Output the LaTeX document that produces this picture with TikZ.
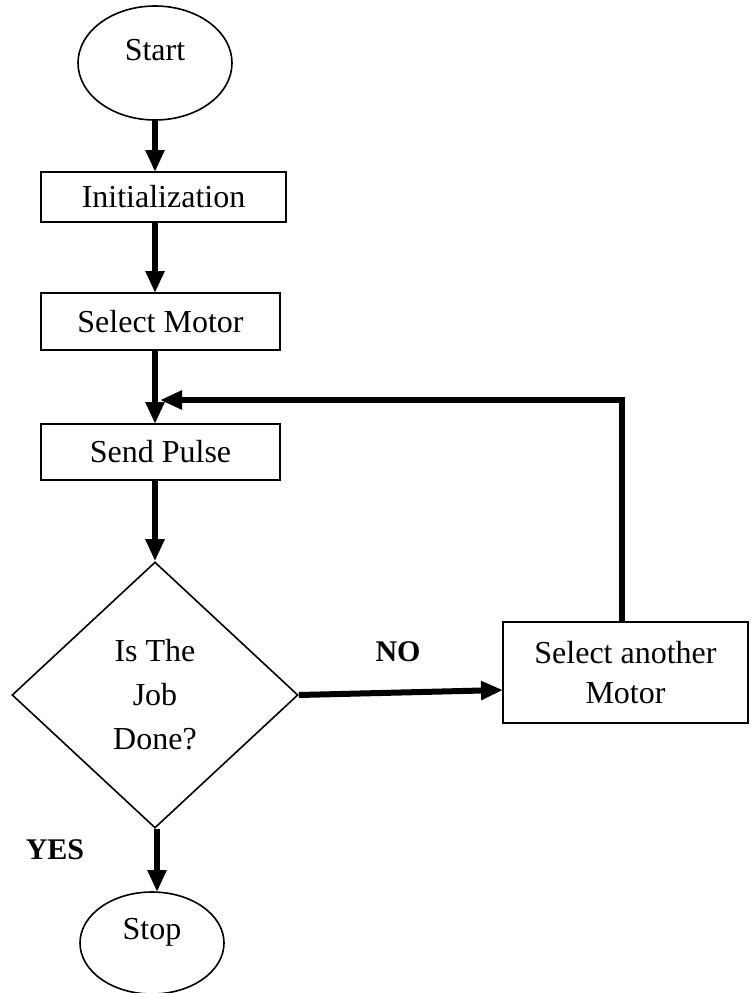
\documentclass[tikz,border=0pt]{standalone}
\usepackage{fontspec}
\setmainfont{Liberation Serif}
\usetikzlibrary{shapes.geometric,arrows.meta}
\begin{document}
\begin{tikzpicture}[x=1pt,y=-1pt,
  every node/.style={font=\fontsize{32}{42}\selectfont},
  terminal/.style={draw,line width=1.6pt,ellipse,inner sep=0pt},
  procbox/.style={draw,line width=1.6pt,rectangle,inner sep=0pt},
  decision/.style={draw,line width=1.6pt,diamond,inner sep=0pt,align=center},
  flow/.style={line width=6pt,-{Triangle[length=22pt,width=18pt]}},
  tag/.style={font=\fontsize{30}{36}\selectfont\bfseries}]
\useasboundingbox (0,0) rectangle (751,993);
\begin{scope}
\clip (0,0) rectangle (751,993);
% terminals
\node[terminal,minimum width=154pt,minimum height=114pt] (start) at (155,63) {};
\node at (155,50) {Start};
\node[terminal,minimum width=144pt,minimum height=102pt] (stop) at (152,943) {};
\node at (152,932) {Stop};
\end{scope}
% process boxes
\node[procbox,minimum width=245pt,minimum height=50pt] (init) at (163.5,197) {Initialization};
\node[procbox,minimum width=239pt,minimum height=57pt] (sel) at (160.5,321.5) {Select Motor};
\node[procbox,minimum width=239pt,minimum height=56pt] (send) at (160.5,452) {Send Pulse};
\node[procbox,minimum width=245pt,minimum height=101pt,align=center,
      font=\fontsize{32}{40}\selectfont] (other) at (625.5,672.5) {Select another\\Motor};
% decision
\node[decision,minimum width=286pt,minimum height=266pt,
      font=\fontsize{32}{44}\selectfont] (job) at (155,695) {Is The\\Job\\Done?};
% connectors
\coordinate (jn) at (155,400);
\coordinate (turn) at (622,400);
\coordinate (noend) at (503,690);
\coordinate (yesend) at (157,892);
\draw[flow] (start.south -| 155,0) -- (155,172);
\draw[flow] (155,222) -- (155,293);
\draw[line width=6pt] (155,350) -- (jn);
\draw[flow] (jn) -- (155,424);
\draw[flow] (155,480) -- (job.north);
\draw[flow] (job.east) -- (noend);
\draw[flow] (other.north -| turn) -- (turn) -- (160,400);
\draw[flow] (job.south -| yesend) -- (yesend);
% branch labels
\node[tag] (no) at (398,652) {NO};
\node[tag] (yes) at (55,850) {YES};
\end{tikzpicture}
\end{document}
